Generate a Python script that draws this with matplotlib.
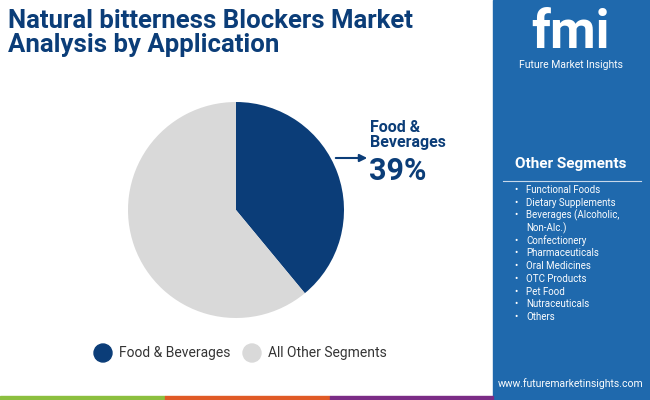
import matplotlib
matplotlib.use("Agg")
import matplotlib.pyplot as plt
from matplotlib.patches import Rectangle, Ellipse

categories = ["Food & Beverages", "All Other Segments"]
shares = [39, 61]
colors = ["#0b3d78", "#d9d9d9"]
other_segments = ["Functional Foods", "Dietary Supplements", "Beverages (Alcoholic,\nNon-Alc.)",
                  "Confectionery", "Pharmaceuticals", "Oral Medicines", "OTC Products",
                  "Pet Food", "Nutraceuticals", "Others"]

W, H = 650, 400
fig = plt.figure(figsize=(6.5, 4), dpi=100)
fig.patch.set_facecolor("white")
F = "Roboto"

def fx(x): return x / W
def fy(y): return 1 - y / H

fig.patches.append(Rectangle((fx(493), 0), fx(157), 1, transform=fig.transFigure, color="#1f69ad", zorder=0))
for x0, x1, c in [(0, 165, "#8cbf3f"), (165, 330, "#e05a26"), (330, 493, "#7b2c86")]:
    fig.patches.append(Rectangle((fx(x0), 0), fx(x1 - x0), 4 / H, transform=fig.transFigure, color=c, zorder=1))

fig.text(fx(8), fy(33), "Natural bitterness Blockers Market\nAnalysis by Application", fontsize=18.5,
         fontweight="bold", color="#0b3d78", family=F, va="center", ha="left", linespacing=1.05)

r = 108
ax = fig.add_axes([fx(236 - r), fy(210 + r), fx(2 * r), 2 * r / H])
ax.pie(shares, colors=colors, startangle=90, counterclock=False, radius=1)
ax.set_xlim(-1, 1); ax.set_ylim(-1, 1); ax.set_aspect("equal"); ax.axis("off")

fig.add_artist(matplotlib.patches.FancyArrowPatch((fx(333), fy(158)), (fx(370), fy(158)),
               transform=fig.transFigure, arrowstyle="-|>", mutation_scale=11, color="#0b3d78", lw=1.5))
fig.text(fx(370), fy(135), "Food &\nBeverages", fontsize=11.5, fontweight="bold", color="#0b3d78",
         family=F, va="center", ha="left", linespacing=1.05)
fig.text(fx(369), fy(171), f"{shares[0]}%", fontsize=22, fontweight="bold", color="#0b3d78",
         family=F, va="center", ha="left")

for cx, lab, c in [(103, categories[0], colors[0]), (252, categories[1], colors[1])]:
    fig.patches.append(Ellipse((fx(cx), fy(353)), 18 / W, 18 / H, transform=fig.transFigure, color=c))
    fig.text(fx(cx + 16), fy(353), lab, fontsize=10, color="#333333", family=F, va="center", ha="left")

fig.text(fx(571), fy(33), "fmi", fontsize=38, fontweight="bold", color="white", family=F, ha="center", va="center")
fig.text(fx(571), fy(65), "Future Market Insights", fontsize=7.5, color="white", family=F, ha="center", va="center")

fig.text(fx(571), fy(164), "Other Segments", fontsize=11, fontweight="bold", color="white", family=F, ha="center", va="center")
fig.add_artist(matplotlib.lines.Line2D([fx(503), fx(641)], [fy(181), fy(181)], color="#c8d8ea", lw=0.8))
y = 190
for s in other_segments:
    fig.text(fx(514), fy(y), "•", fontsize=7, color="white", family=F, va="center")
    for k, line in enumerate(s.split("\n")):
        fig.text(fx(526), fy(y), line, fontsize=7, color="white", family=F, va="center")
        y += 12.7
fig.text(fx(571), fy(384), "www.futuremarketinsights.com", fontsize=7.5, color="white", family=F, ha="center", va="center")

fig.savefig("out.png", dpi=100)
